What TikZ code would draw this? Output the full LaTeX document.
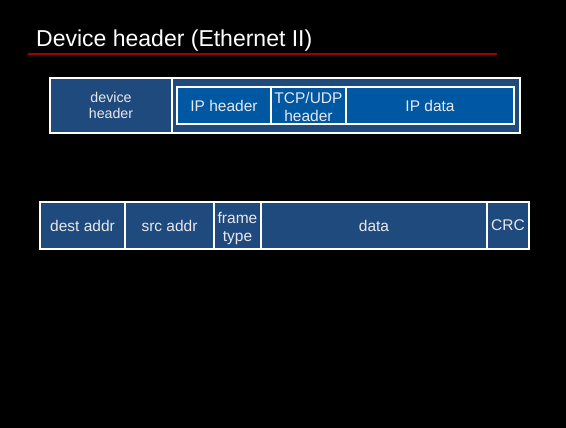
\documentclass[tikz,border=0pt]{standalone}
\usepackage{fontspec}
\setmainfont{Liberation Sans}
\definecolor{frameblue}{HTML}{1F4A7E}
\definecolor{ipblue}{HTML}{0058A2}
\definecolor{rulered}{HTML}{A00000}
\definecolor{labelwhite}{HTML}{E8E8EC}
\begin{document}
\begin{tikzpicture}[x=1pt,y=-1pt,
  cell/.style={draw=white, line width=1.1pt, fill=frameblue, text=labelwhite,
    anchor=north west, inner sep=0pt, outer sep=0pt, align=center,
    font=\fontsize{15.5}{17.5}\selectfont},
  ipcell/.style={cell, fill=ipblue}]
  % page
  \fill[black] (0,0) rectangle (566,428);
  \useasboundingbox (0,0) rectangle (566,428);

  % title with rule
  \node[anchor=base west, inner sep=0pt, text=white,
        font=\fontsize{23}{27}\selectfont] (title) at (36,47) {Device header (Ethernet II)};
  \draw[rulered, line width=1.6pt] (28,54) -- (497,54);

  % encapsulated frame
  \node[cell, minimum width=122, minimum height=55, font=\fontsize{14.2}{16.7}\selectfont]
    (dev) at (50,78) {device\\header};
  \node[cell, minimum width=348, minimum height=55] (payload) at (172,78) {};
  \node[ipcell, minimum width=94, minimum height=37] (iph) at (177,87) {IP header};
  \node[ipcell, minimum width=75, minimum height=37] (tcp) at (271,87)
    {\rule{0pt}{14pt}TCP/UDP\\header};
  \node[ipcell, minimum width=168, minimum height=37] (ipd) at (346,87) {IP data};

  % Ethernet II fields
  \node[cell, minimum width=85, minimum height=47] (dest) at (40,202) {dest addr};
  \node[cell, minimum width=89, minimum height=47] (src) at (125,202) {src addr};
  \node[cell, minimum width=47, minimum height=47] (ftype) at (214,202)
    {\rule{0pt}{17pt}frame\\type};
  \node[cell, minimum width=226, minimum height=47] (data) at (261,202) {data};
  \node[cell, minimum width=42, minimum height=47] (crc) at (487,202) {CRC};
\end{tikzpicture}
\end{document}
